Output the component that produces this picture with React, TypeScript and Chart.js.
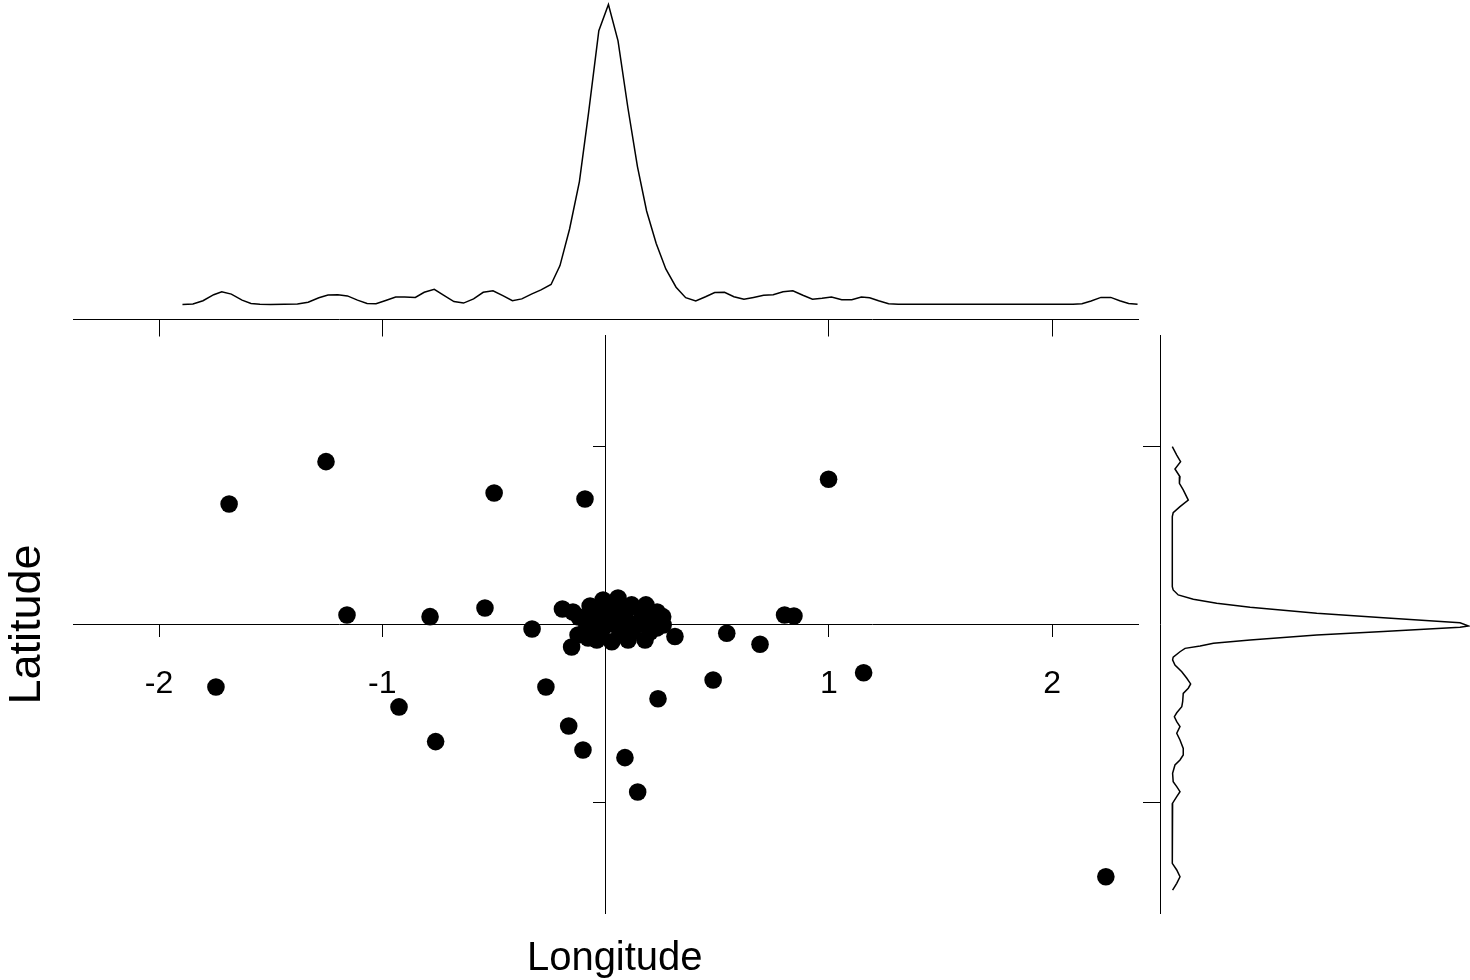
import React, { useEffect, useRef } from "react";
import { Chart, registerables } from "chart.js";

Chart.register(...registerables);
Chart.defaults.font.family = "'Liberation Sans', Arial, sans-serif";
Chart.defaults.color = "#000";

// ---------- data ----------
const X_TICKS = [-2, -1, 1, 2];
const Y_TICKS = [-1, 1];
const X_MIN = -2.383;
const X_MAX = 2.385;
const Y_MIN = -1.6236;
const Y_MAX = 1.6236;

// scatter: longitude / latitude
const LON = [
  -1.252, -1.686, -0.499, -0.092, -1.158, -0.786, -0.54, -0.329, -1.745, -0.267,
  -0.925, -0.761, -0.165, -0.101, -0.152, -0.193, 0.999, 0.802, 0.844, 0.543,
  0.692, 0.311, 1.156, 0.482, 0.235, 0.087, 0.144, 2.241,
  -0.146, -0.119, -0.011, 0.056, 0.117, 0.155, 0.199, 0.256, -0.039, -0.123,
  -0.039, 0.028, 0.101, 0.177, 0.229, -0.084, 0.05, 0.14, 0.002, 0.087,
  -0.069, 0.208, 0.065, -0.011,
  -0.069, 0.029, 0.074, -0.025, 0.034, 0.092, 0.159, 0.199, -0.034, 0.047,
  0.119, 0.181, 0.231, -0.078, -0.06, 0.258,
];
const LAT = [
  0.915, 0.677, 0.739, 0.705, 0.053, 0.044, 0.093, -0.025, -0.351, -0.351,
  -0.463, -0.658, -0.57, -0.705, -0.126, 0.087, 0.816, 0.053, 0.048, -0.049,
  -0.111, -0.067, -0.271, -0.312, -0.417, -0.748, -0.941, -1.417,
  0.07, 0.042, 0.138, 0.149, 0.11, 0.081, 0.065, 0.044, 0.081, -0.059,
  -0.087, -0.097, -0.087, -0.087, -0.02, -0.02, -0.003, -0.003, 0.053, 0.07,
  0.025, -0.003, -0.042, -0.02,
  0.104, 0.098, 0.07, 0.025, 0.003, 0.025, 0.025, -0.042, -0.042, 0.048,
  -0.042, 0.11, 0.07, -0.076, 0.053, -0.003,
];

// top marginal density of longitude
const LON_GRID = [
  -1.895, -1.848, -1.803, -1.755, -1.719, -1.676, -1.628, -1.588, -1.548, -1.5,
  -1.38, -1.332, -1.284, -1.243, -1.199, -1.156, -1.111, -1.068, -1.028, -0.988,
  -0.94, -0.9, -0.852, -0.812, -0.767, -0.724, -0.679, -0.636, -0.591, -0.548,
  -0.504, -0.46, -0.417, -0.375, -0.332, -0.289, -0.244, -0.204, -0.161, -0.117,
  -0.076, -0.03, 0.013, 0.056, 0.1, 0.143, 0.184, 0.227, 0.27, 0.316,
  0.359, 0.404, 0.448, 0.489, 0.533, 0.575, 0.62, 0.663, 0.708, 0.751,
  0.795, 0.839, 0.884, 0.927, 0.97, 1.012, 1.058, 1.103, 1.146, 1.183,
  1.223, 1.268, 1.311, 2.094, 2.134, 2.175, 2.219, 2.263, 2.303, 2.343, 2.383,
];
const LON_DENS = [
  0, 0.002, 0.013, 0.033, 0.043, 0.035, 0.015, 0.004, 0.001, 0,
  0.002, 0.008, 0.023, 0.032, 0.033, 0.029, 0.015, 0.004, 0.003, 0.013,
  0.025, 0.025, 0.024, 0.041, 0.051, 0.031, 0.01, 0.005, 0.019, 0.041,
  0.046, 0.03, 0.013, 0.019, 0.035, 0.049, 0.067, 0.13, 0.252, 0.41,
  0.639, 0.913, 1.0, 0.879, 0.657, 0.46, 0.312, 0.204, 0.119, 0.058,
  0.023, 0.012, 0.026, 0.04, 0.041, 0.026, 0.018, 0.024, 0.031, 0.033,
  0.043, 0.046, 0.031, 0.018, 0.021, 0.025, 0.016, 0.016, 0.025, 0.023,
  0.013, 0.003, 0.001, 0.001, 0.003, 0.012, 0.024, 0.024, 0.013, 0.004, 0.001,
];

// right marginal density of latitude
const LAT_GRID = [
  0.999, 0.952, 0.915, 0.874, 0.83, 0.793, 0.756, 0.699, 0.662, 0.628,
  0.606, 0.212, 0.194, 0.166, 0.142, 0.119, 0.097, 0.063, 0.038, 0.01,
  -0.008, -0.016, -0.04, -0.059, -0.087, -0.106, -0.121, -0.134, -0.153, -0.183,
  -0.199, -0.228, -0.265, -0.302, -0.334, -0.358, -0.387, -0.434, -0.462, -0.496,
  -0.518, -0.546, -0.574, -0.611, -0.649, -0.696, -0.733, -0.761, -0.789, -0.836,
  -0.883, -0.911, -0.939, -0.967, -1.004, -1.342, -1.379, -1.417, -1.454, -1.492,
];
const LAT_DENS = [
  0, 0.015, 0.028, 0.009, 0.026, 0.024, 0.037, 0.054, 0.026, 0.003,
  0, 0, 0.003, 0.02, 0.071, 0.15, 0.263, 0.488, 0.713, 0.972,
  1.0, 0.972, 0.713, 0.488, 0.263, 0.139, 0.094, 0.043, 0.026, 0.003,
  0.001, 0.009, 0.032, 0.049, 0.062, 0.054, 0.037, 0.035, 0.032, 0.015,
  0.007, 0.015, 0.026, 0.015, 0.026, 0.037, 0.037, 0.026, 0.009, 0.001,
  0.003, 0.015, 0.026, 0.015, 0.001, 0, 0.015, 0.026, 0.015, 0.001,
];

// ---------- helpers ----------
const W = 1470;
const H = 980;
const BLACK = "#000";

const fixTicks = (vals: number[]) => (s: any) => {
  s.ticks = vals.map((v) => ({ value: v }));
};
const zeroPad = (s: any) => {
  s.paddingLeft = 0;
  s.paddingRight = 0;
  s.paddingTop = 0;
  s.paddingBottom = 0;
};
const baseOptions = {
  responsive: false,
  animation: false as const,
  devicePixelRatio: 1,
  events: [] as any[],
  plugins: {
    legend: { display: false },
    tooltip: { enabled: false },
    title: { display: false },
  },
};

const shiftTitle = {
  id: "shiftTitle",
  afterLayout(chart: any) {
    const s = chart.scales.xt;
    if (s) {
      s.left += 9;
      s.right += 9;
    }
  },
};

export default function App() {
  const topRef = useRef<HTMLCanvasElement>(null);
  const mainRef = useRef<HTMLCanvasElement>(null);
  const rightRef = useRef<HTMLCanvasElement>(null);

  useEffect(() => {
    const charts: Chart[] = [];

    // top density
    charts.push(
      new Chart(topRef.current!, {
        type: "scatter",
        data: {
          datasets: [
            {
              data: LON_GRID.map((x, i) => ({ x, y: LON_DENS[i] })),
              showLine: true,
              pointRadius: 0,
              borderColor: BLACK,
              borderWidth: 1.5,
              tension: 0,
              clip: false,
            } as any,
          ],
        },
        options: {
          ...baseOptions,
          layout: { autoPadding: false, padding: { left: 73.5, top: 0, right: W - 1138, bottom: H - 319.5 - 20 } },
          scales: {
            x: {
              type: "linear",
              position: "bottom",
              bounds: "data",
              min: X_MIN,
              max: X_MAX,
              afterBuildTicks: fixTicks(X_TICKS),
              afterFit: (s: any) => {
                s.height = 20;
                zeroPad(s);
              },
              grid: { display: true, drawOnChartArea: false, drawTicks: true, tickLength: 17, color: BLACK, lineWidth: 1 },
              border: { display: true, color: BLACK, width: 1 },
              ticks: { display: false },
            },
            y: { type: "linear", display: false, bounds: "data", min: -0.0497, max: 1.0153 },
          },
        } as any,
      })
    );

    // main scatter
    charts.push(
      new Chart(mainRef.current!, {
        type: "scatter",
        data: {
          datasets: [
            {
              data: LON.map((x, i) => ({ x, y: LAT[i] })),
              pointRadius: 8.8,
              pointHoverRadius: 8.8,
              backgroundColor: BLACK,
              borderWidth: 0,
              xAxisID: "x",
              yAxisID: "y",
              clip: false,
            } as any,
          ],
        },
        options: {
          ...baseOptions,
          layout: { autoPadding: false, padding: { left: 0, top: 335.5, right: W - 1138, bottom: 0 } },
          scales: {
            x: {
              type: "linear",
              axis: "x",
              position: { y: 0 },
              bounds: "data",
              min: X_MIN,
              max: X_MAX,
              afterBuildTicks: fixTicks(X_TICKS),
              afterFit: (s: any) => {
                s.height = 0;
                zeroPad(s);
              },
              grid: { display: true, drawOnChartArea: false, drawTicks: true, tickLength: 12, color: BLACK, lineWidth: 1 },
              border: { display: true, color: BLACK, width: 1 },
              ticks: {
                display: true,
                autoSkip: false,
                maxRotation: 0,
                minRotation: 0,
                padding: 32,
                color: BLACK,
                font: { size: 32, lineHeight: 1 },
                callback: (v: any) => String(v),
              },
            },
            y: {
              type: "linear",
              axis: "y",
              position: { x: 0 },
              bounds: "data",
              min: Y_MIN,
              max: Y_MAX,
              afterBuildTicks: fixTicks(Y_TICKS),
              afterFit: (s: any) => {
                s.width = 0;
                zeroPad(s);
              },
              grid: { display: true, drawOnChartArea: false, drawTicks: true, tickLength: 12, color: BLACK, lineWidth: 1 },
              border: { display: true, color: BLACK, width: 1 },
              ticks: { display: false },
            },
            xt: {
              type: "linear",
              axis: "x",
              position: "bottom",
              bounds: "data",
              min: X_MIN,
              max: X_MAX,
              grid: { display: false, drawTicks: false },
              border: { display: false },
              ticks: { display: false },
              title: {
                display: true,
                text: "Longitude",
                color: BLACK,
                font: { size: 40, lineHeight: 1 },
                padding: { top: 0, bottom: 1 },
              },
              afterFit: (s: any) => {
                s.height = H - 913.5;
                zeroPad(s);
              },
            },
            yt: {
              type: "linear",
              axis: "y",
              position: "left",
              bounds: "data",
              min: Y_MIN,
              max: Y_MAX,
              grid: { display: false, drawTicks: false },
              border: { display: false },
              ticks: { display: false },
              title: {
                display: true,
                text: "Latitude",
                color: BLACK,
                font: { size: 45, lineHeight: 1 },
                padding: { top: 5, bottom: 0 },
              },
              afterFit: (s: any) => {
                s.width = 73.5;
                zeroPad(s);
              },
            },
          },
        } as any,
        plugins: [shiftTitle],
      })
    );

    // right density
    charts.push(
      new Chart(rightRef.current!, {
        type: "scatter",
        data: {
          datasets: [
            {
              data: LAT_GRID.map((y, i) => ({ x: LAT_DENS[i], y })),
              showLine: true,
              pointRadius: 0,
              borderColor: BLACK,
              borderWidth: 1.5,
              tension: 0,
              clip: false,
            } as any,
          ],
        },
        options: {
          ...baseOptions,
          layout: { autoPadding: false, padding: { left: 1140, top: 335.5, right: 0, bottom: H - 913.5 } },
          scales: {
            x: { type: "linear", display: false, bounds: "data", min: -0.04155, max: 1.00574 },
            y: {
              type: "linear",
              position: "left",
              bounds: "data",
              min: Y_MIN,
              max: Y_MAX,
              afterBuildTicks: fixTicks(Y_TICKS),
              afterFit: (s: any) => {
                s.width = 20;
                zeroPad(s);
              },
              grid: { display: true, drawOnChartArea: false, drawTicks: true, tickLength: 17, color: BLACK, lineWidth: 1 },
              border: { display: true, color: BLACK, width: 1 },
              ticks: { display: false },
            },
          },
        } as any,
      })
    );

    return () => charts.forEach((c) => c.destroy());
  }, []);

  const cs: React.CSSProperties = { position: "absolute", left: 0, top: 0 };
  return (
    <div style={{ position: "absolute", left: 0, top: 0, width: W, height: H, background: "#fff" }}>
      <canvas ref={topRef} width={W} height={H} style={cs} />
      <canvas ref={rightRef} width={W} height={H} style={cs} />
      <canvas ref={mainRef} width={W} height={H} style={cs} />
    </div>
  );
}
